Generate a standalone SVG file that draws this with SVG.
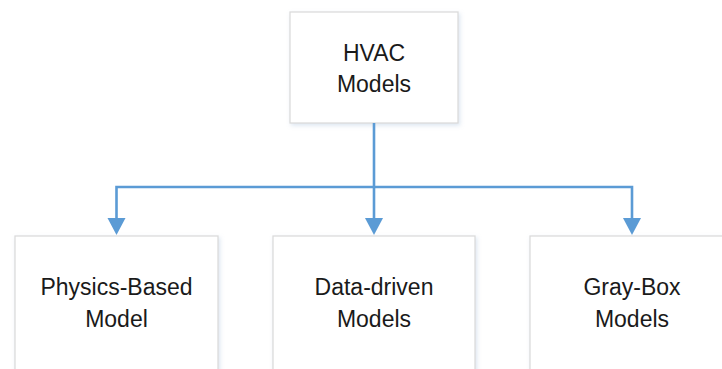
<svg xmlns="http://www.w3.org/2000/svg" width="722" height="369" viewBox="0 0 722 369">
  <style>
    .box { fill: #ffffff; stroke: #d9d9d9; stroke-width: 1.2; }
    .label { font-family: "Liberation Sans", Arial, sans-serif; font-size: 23px; fill: #1a1a1a; text-anchor: middle; }
    .wire { fill: none; stroke: #5b9bd5; stroke-width: 2.6; }
    .head { fill: #5b9bd5; }
  </style>
  <defs>
    <filter id="soft" x="-10%" y="-10%" width="130%" height="130%">
      <feDropShadow dx="1.5" dy="2" stdDeviation="2" flood-color="#9bb6d6" flood-opacity="0.35"/>
    </filter>
  </defs>
  <rect width="722" height="369" fill="#ffffff"/>

  <!-- root node -->
  <g id="hvac">
    <rect class="box" x="290" y="12" width="168" height="111" filter="url(#soft)"/>
    <text class="label" x="374" y="61">HVAC</text>
    <text class="label" x="374" y="92">Models</text>
  </g>

  <!-- leaf nodes -->
  <g id="physics">
    <rect class="box" x="15" y="236" width="203" height="150" filter="url(#soft)"/>
    <text class="label" x="116.5" y="295">Physics-Based</text>
    <text class="label" x="116.5" y="327">Model</text>
  </g>
  <g id="datadriven">
    <rect class="box" x="273" y="236" width="202" height="150" filter="url(#soft)"/>
    <text class="label" x="374" y="295">Data-driven</text>
    <text class="label" x="374" y="327">Models</text>
  </g>
  <g id="graybox">
    <rect class="box" x="530" y="236" width="204" height="150" filter="url(#soft)"/>
    <text class="label" x="632" y="295">Gray-Box</text>
    <text class="label" x="632" y="327">Models</text>
  </g>

  <!-- connectors: trunk, bus and three drops with filled heads -->
  <g id="connectors">
    <path class="wire" d="M374,123 V187"/>
    <path class="wire" d="M374,187 H116.5 V218"/>
    <path class="wire" d="M374,187 V218"/>
    <path class="wire" d="M374,187 H632 V218"/>
    <path class="head" d="M107.5,218 H125.5 L116.5,235 Z"/>
    <path class="head" d="M365,218 H383 L374,235 Z"/>
    <path class="head" d="M623,218 H641 L632,235 Z"/>
  </g>
</svg>
